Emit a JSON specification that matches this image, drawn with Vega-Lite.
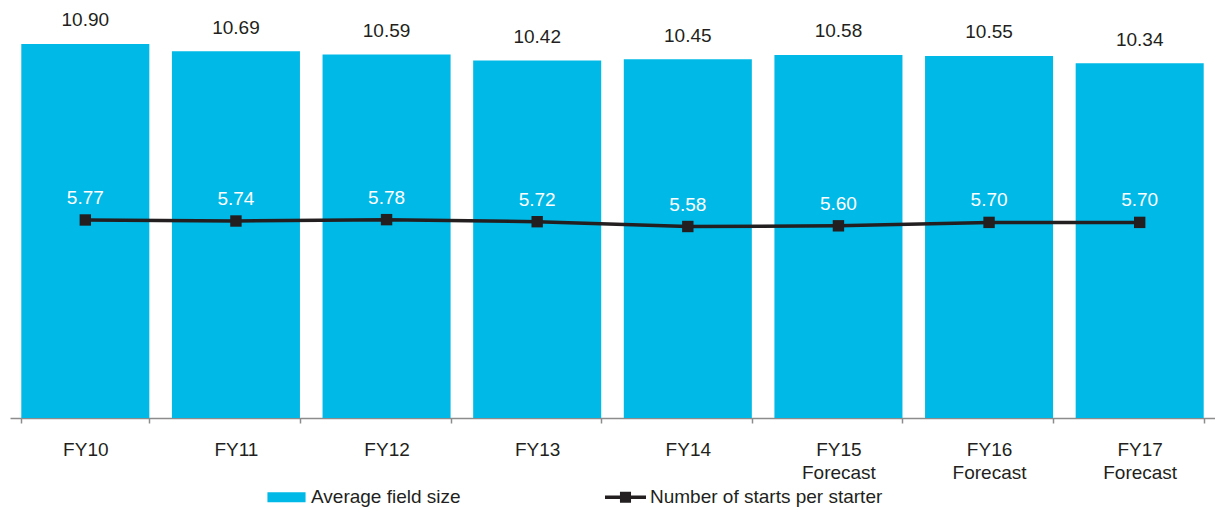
{
  "$schema": "https://vega.github.io/schema/vega-lite/v6.json",
  "width": 1205,
  "height": 418,
  "autosize": "none",
  "padding": {"left": 10, "top": 0, "right": 0, "bottom": 92},
  "config": {
    "view": {"stroke": null},
    "font": "Liberation Sans",
    "text": {"font": "Liberation Sans"}
  },
  "data": {
    "values": [
      {"year": "FY10", "field_size": 10.90, "starts": 5.77},
      {"year": "FY11", "field_size": 10.69, "starts": 5.74},
      {"year": "FY12", "field_size": 10.59, "starts": 5.78},
      {"year": "FY13", "field_size": 10.42, "starts": 5.72},
      {"year": "FY14", "field_size": 10.45, "starts": 5.58},
      {"year": "FY15|Forecast", "field_size": 10.58, "starts": 5.60},
      {"year": "FY16|Forecast", "field_size": 10.55, "starts": 5.70},
      {"year": "FY17|Forecast", "field_size": 10.34, "starts": 5.70}
    ]
  },
  "encoding": {
    "x": {
      "field": "year",
      "type": "nominal",
      "sort": null,
      "scale": {"paddingInner": 0.15, "paddingOuter": 0.075},
      "axis": {
        "title": null,
        "labelExpr": "split(datum.label, '|')",
        "tickBand": "extent",
        "domainColor": "#8c8c8c",
        "domainWidth": 1.5,
        "tickColor": "#8c8c8c",
        "tickWidth": 1.5,
        "tickSize": 5,
        "labelAngle": 0,
        "labelFont": "Liberation Sans",
        "labelFontSize": 19,
        "labelColor": "#231f20",
        "labelPadding": 17,
        "labelLineHeight": 23
      }
    }
  },
  "layer": [
    {
      "mark": {"type": "bar"},
      "encoding": {
        "y": {
          "field": "field_size",
          "type": "quantitative",
          "scale": {"domain": [0, 12.18], "nice": false},
          "axis": null
        },
        "color": {
          "datum": "Average field size",
          "scale": {
            "domain": ["Average field size", "Number of starts per starter"],
            "range": ["#00B9E6", "#231f20"]
          },
          "legend": {
            "orient": "none",
            "legendX": 256,
            "legendY": 476.5,
            "direction": "horizontal",
            "title": null,
            "padding": 0,
            "symbolSize": 1681,
            "symbolStrokeWidth": 0,
            "labelFont": "Liberation Sans",
            "labelFontSize": 19,
            "labelColor": "#231f20",
            "labelOffset": 4,
            "labelLimit": 500,
            "columnPadding": 144,
            "encode": {
              "symbols": {
                "update": {
                  "shape": {"signal": "datum.value === 'Average field size' ? 'M-0.93,-0.244H0.93V0.244H-0.93Z' : 'M-1,-0.085H-0.27V-0.27H0.27V-0.085H1V0.085H0.27V0.27H-0.27V0.085H-1Z'"},
                  "fill": {"signal": "datum.value === 'Average field size' ? '#00B9E6' : '#231f20'"},
                  "stroke": {"value": "transparent"},
                  "opacity": {"value": 1}
                }
              }
            }
          }
        }
      }
    },
    {
      "mark": {"type": "text", "baseline": "alphabetic", "dy": -17.5, "fontSize": 19, "color": "#231f20"},
      "encoding": {
        "y": {"field": "field_size", "type": "quantitative"},
        "text": {"field": "field_size", "type": "quantitative", "format": ".2f"}
      }
    },
    {
      "mark": {
        "type": "line",
        "strokeWidth": 3.5,
        "point": {"shape": "square", "size": 130, "filled": true, "color": "#231f20", "opacity": 1}
      },
      "encoding": {
        "y": {"field": "starts", "type": "quantitative"},
        "color": {"datum": "Number of starts per starter"}
      }
    },
    {
      "mark": {"type": "text", "baseline": "alphabetic", "dy": -16, "fontSize": 19, "color": "#ffffff"},
      "encoding": {
        "y": {"field": "starts", "type": "quantitative"},
        "text": {"field": "starts", "type": "quantitative", "format": ".2f"}
      }
    }
  ]
}
